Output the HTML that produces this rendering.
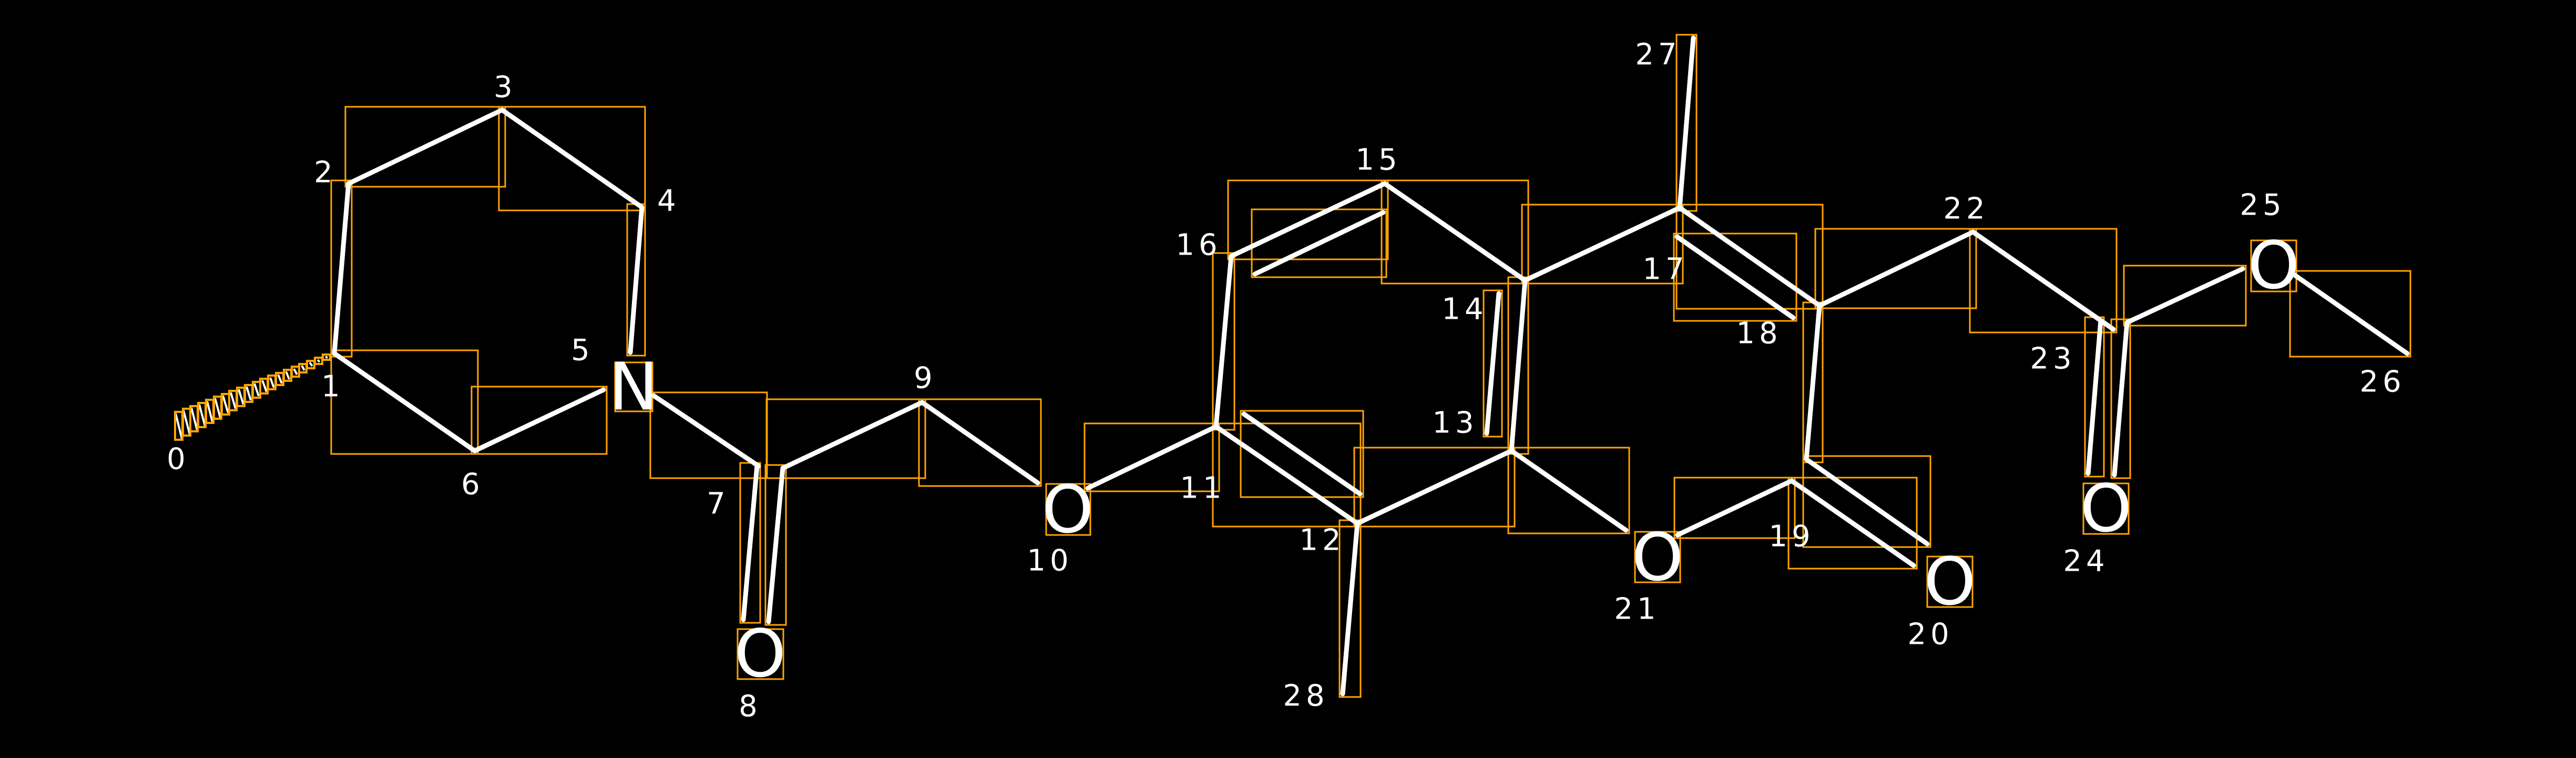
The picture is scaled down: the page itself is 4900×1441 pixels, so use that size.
<!DOCTYPE html>
<html><head><meta charset="utf-8"><style>
html,body{margin:0;padding:0;background:#000;}
svg{display:block;}
text{font-family:"DejaVu Sans","Liberation Sans",sans-serif;fill:#fff;}
.l{font-size:56px;letter-spacing:8px;}
.a{font-size:125px;}
</style></head><body>
<svg width="4900" height="1441" viewBox="0 0 4900 1441" xmlns="http://www.w3.org/2000/svg">
<rect width="4900" height="1441" fill="#000"/>
<g fill="none" stroke="#FFA500" stroke-width="3">
<rect x="630" y="343" width="39" height="335"/>
<rect x="657" y="203" width="304" height="152"/>
<rect x="949" y="203" width="278" height="197"/>
<rect x="1193" y="388" width="34" height="288"/>
<rect x="630" y="666" width="279" height="197"/>
<rect x="897" y="735" width="257" height="128"/>
<rect x="1237" y="746" width="222" height="163"/>
<rect x="1408" y="880" width="38" height="304"/>
<rect x="1456" y="884" width="39" height="304"/>
<rect x="1458" y="759" width="302" height="150"/>
<rect x="1748" y="759" width="232" height="165"/>
<rect x="2063" y="805" width="256" height="129"/>
<rect x="2307" y="481" width="41" height="336"/>
<rect x="2336" y="343" width="304" height="150"/>
<rect x="2381" y="398" width="256" height="129"/>
<rect x="2628" y="343" width="279" height="196"/>
<rect x="2895" y="389" width="306" height="150"/>
<rect x="3189" y="66" width="38" height="335"/>
<rect x="3189" y="389" width="278" height="198"/>
<rect x="3184" y="444" width="233" height="166"/>
<rect x="2869" y="527" width="38" height="336"/>
<rect x="2822" y="552" width="35" height="278"/>
<rect x="2307" y="805" width="281" height="196"/>
<rect x="2360" y="781" width="233" height="164"/>
<rect x="2576" y="851" width="305" height="150"/>
<rect x="2548" y="989" width="40" height="336"/>
<rect x="2869" y="851" width="230" height="163"/>
<rect x="3185" y="908" width="229" height="115"/>
<rect x="3430" y="575" width="37" height="304"/>
<rect x="3430" y="867" width="242" height="173"/>
<rect x="3402" y="908" width="244" height="173"/>
<rect x="3453" y="435" width="306" height="151"/>
<rect x="3747" y="435" width="279" height="197"/>
<rect x="3966" y="603" width="36" height="303"/>
<rect x="4016" y="607" width="36" height="302"/>
<rect x="4040" y="505" width="232" height="114"/>
<rect x="4356" y="515" width="229" height="163"/>
<rect x="1170" y="689" width="71" height="93"/>
<rect x="1403" y="1196" width="87" height="95"/>
<rect x="1990" y="920" width="84" height="97"/>
<rect x="3110" y="1011" width="86" height="96"/>
<rect x="3666" y="1058" width="86" height="96"/>
<rect x="3963" y="919" width="86" height="96"/>
<rect x="4282" y="457" width="86" height="97"/>
</g>
<g stroke="#fff" stroke-width="9" stroke-linecap="round">
<line x1="636" y1="672" x2="663" y2="349"/>
<line x1="663" y1="349" x2="955" y2="209"/>
<line x1="955" y1="209" x2="1221" y2="394"/>
<line x1="1221" y1="394" x2="1199" y2="670"/>
<line x1="636" y1="672" x2="903" y2="857"/>
<line x1="903" y1="857" x2="1148" y2="741"/>
<line x1="1243" y1="752" x2="1443" y2="886"/>
<line x1="1440" y1="886" x2="1414" y2="1178"/>
<line x1="1489" y1="890" x2="1462" y2="1182"/>
<line x1="1489" y1="890" x2="1754" y2="765"/>
<line x1="1754" y1="765" x2="1974" y2="918"/>
<line x1="2069" y1="928" x2="2313" y2="811"/>
<line x1="2313" y1="811" x2="2342" y2="487"/>
<line x1="2342" y1="487" x2="2634" y2="349"/>
<line x1="2387" y1="521" x2="2631" y2="404"/>
<line x1="2634" y1="349" x2="2901" y2="533"/>
<line x1="2901" y1="533" x2="3195" y2="395"/>
<line x1="3195" y1="395" x2="3221" y2="72"/>
<line x1="3195" y1="395" x2="3461" y2="581"/>
<line x1="3190" y1="450" x2="3411" y2="604"/>
<line x1="2901" y1="533" x2="2875" y2="857"/>
<line x1="2851" y1="558" x2="2828" y2="824"/>
<line x1="2313" y1="811" x2="2582" y2="995"/>
<line x1="2366" y1="787" x2="2587" y2="939"/>
<line x1="2582" y1="995" x2="2875" y2="857"/>
<line x1="2582" y1="995" x2="2554" y2="1319"/>
<line x1="2875" y1="857" x2="3093" y2="1008"/>
<line x1="3191" y1="1017" x2="3408" y2="914"/>
<line x1="3461" y1="581" x2="3436" y2="873"/>
<line x1="3436" y1="873" x2="3666" y2="1034"/>
<line x1="3408" y1="914" x2="3640" y2="1075"/>
<line x1="3461" y1="581" x2="3753" y2="441"/>
<line x1="3753" y1="441" x2="4020" y2="626"/>
<line x1="3996" y1="609" x2="3972" y2="900"/>
<line x1="4046" y1="613" x2="4022" y2="903"/>
<line x1="4046" y1="613" x2="4266" y2="511"/>
<line x1="4362" y1="521" x2="4579" y2="672"/>
</g>
<g stroke="#fff" stroke-width="4">
<line x1="619" y1="678" x2="623" y2="680"/>
<line x1="604" y1="684" x2="608" y2="688"/>
<line x1="589" y1="689" x2="594" y2="696"/>
<line x1="574" y1="695" x2="579" y2="704"/>
<line x1="559" y1="701" x2="565" y2="712"/>
<line x1="544" y1="706" x2="550" y2="721"/>
<line x1="529" y1="712" x2="536" y2="729"/>
<line x1="514" y1="718" x2="521" y2="737"/>
<line x1="499" y1="723" x2="507" y2="745"/>
<line x1="484" y1="729" x2="492" y2="753"/>
<line x1="469" y1="735" x2="477" y2="761"/>
<line x1="454" y1="740" x2="463" y2="769"/>
<line x1="439" y1="746" x2="448" y2="777"/>
<line x1="424" y1="752" x2="434" y2="785"/>
<line x1="409" y1="757" x2="419" y2="794"/>
<line x1="394" y1="763" x2="404" y2="802"/>
<line x1="379" y1="769" x2="390" y2="810"/>
<line x1="364" y1="775" x2="375" y2="818"/>
<line x1="349" y1="780" x2="361" y2="826"/>
<line x1="334" y1="786" x2="346" y2="834"/>
</g>
<g fill="none" stroke="#FFA500" stroke-width="4">
<rect x="614" y="674" width="14" height="10"/>
<rect x="599" y="680" width="14" height="12"/>
<rect x="584" y="686" width="14" height="14"/>
<rect x="569" y="692" width="14" height="16"/>
<rect x="555" y="697" width="14" height="19"/>
<rect x="540" y="703" width="14" height="21"/>
<rect x="525" y="709" width="14" height="23"/>
<rect x="510" y="714" width="14" height="26"/>
<rect x="495" y="720" width="14" height="28"/>
<rect x="481" y="726" width="14" height="30"/>
<rect x="466" y="732" width="14" height="32"/>
<rect x="451" y="737" width="14" height="35"/>
<rect x="436" y="743" width="14" height="37"/>
<rect x="422" y="749" width="14" height="39"/>
<rect x="407" y="754" width="14" height="42"/>
<rect x="392" y="760" width="14" height="44"/>
<rect x="377" y="766" width="14" height="46"/>
<rect x="362" y="772" width="14" height="48"/>
<rect x="348" y="777" width="14" height="51"/>
<rect x="333" y="783" width="14" height="53"/>
</g>
<g class="l" text-anchor="middle" dominant-baseline="central">
<text x="339" y="873">0</text>
<text x="633" y="735">1</text>
<text x="619" y="328">2</text>
<text x="961" y="166">3</text>
<text x="1272" y="382">4</text>
<text x="1108" y="666">5</text>
<text x="899" y="921">6</text>
<text x="1366" y="958">7</text>
<text x="1427" y="1343">8</text>
<text x="1760" y="719">9</text>
<text x="1997" y="1066">10</text>
<text x="2288" y="928">11</text>
<text x="2515" y="1027">12</text>
<text x="2768" y="804">13</text>
<text x="2786" y="588">14</text>
<text x="2622" y="304">15</text>
<text x="2280" y="466">16</text>
<text x="3168" y="512">17</text>
<text x="3346" y="634">18</text>
<text x="3408" y="1020">19</text>
<text x="3672" y="1206">20</text>
<text x="3114" y="1158">21</text>
<text x="3740" y="397">22</text>
<text x="3905" y="682">23</text>
<text x="3968" y="1067">24</text>
<text x="4304" y="390">25</text>
<text x="4532" y="726">26</text>
<text x="3154" y="104">27</text>
<text x="2484" y="1323">28</text>
</g>
<g class="a" text-anchor="middle" dominant-baseline="central">
<text x="1205" y="736">N</text>
<text x="1446" y="1243">O</text>
<text x="2031" y="969">O</text>
<text x="3153" y="1060">O</text>
<text x="3709" y="1106">O</text>
<text x="4006" y="967">O</text>
<text x="4325" y="505">O</text>
</g>
</svg>
</body></html>
